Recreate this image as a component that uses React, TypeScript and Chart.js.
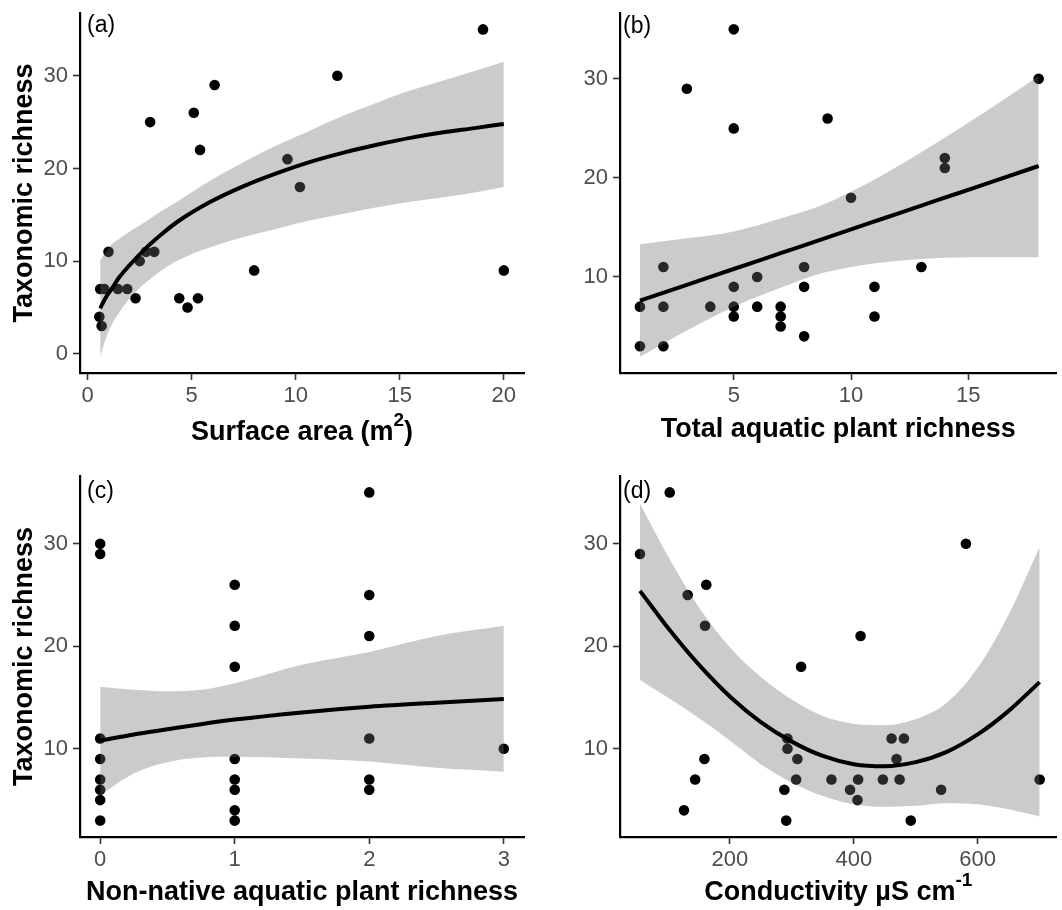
import React, { useEffect, useRef } from 'react';
import { Chart, registerables } from 'chart.js';

Chart.register(...registerables);

const FONT = "'Liberation Sans', Arial, Helvetica, sans-serif";
const BAND = 'rgba(110,110,110,0.36)';

// ---------- Panel (a): surface area ----------
const aPointX = [19.0, 12.0, 6.1, 5.1, 3.0, 5.4, 9.6, 10.2, 1.0, 2.8, 3.2, 2.5, 8.0, 20.0, 0.6, 0.8, 1.45, 1.9, 2.3, 4.4, 5.3, 4.8, 0.56, 0.67];
const aPointY = [35, 30, 29, 26, 25, 22, 21, 18, 11, 11, 11, 10, 9, 9, 7, 7, 7, 7, 6, 6, 6, 5, 4, 3];
const aCurveX = [0.6, 0.85, 1.15, 1.5, 1.95, 2.75, 3.55, 4.35, 5.9, 7.5, 9.1, 10.7, 12.3, 13.9, 15.5, 17.1, 18.6, 20];
const aFit = [4.9, 6.0, 7.0, 8.2, 9.4, 11.3, 12.9, 14.3, 16.4, 18.1, 19.5, 20.7, 21.7, 22.55, 23.3, 23.9, 24.35, 24.8];
const aUpper = [10.1, 10.9, 11.8, 12.4, 13.1, 14.2, 15.4, 16.5, 18.7, 20.7, 22.5, 24.1, 25.7, 27.1, 28.4, 29.5, 30.5, 31.5];
const aLower = [-0.3, 1.5, 3.1, 4.4, 5.8, 7.6, 9.0, 10.1, 11.5, 12.6, 13.5, 14.4, 15.1, 15.8, 16.4, 16.9, 17.4, 18.0];
const aXTicks = [0, 5, 10, 15, 20];
const aYTicks = [0, 10, 20, 30];

// ---------- Panel (b): total aquatic plant richness ----------
const bPointX = [5, 3, 5, 9, 18, 14, 14, 10, 2, 8, 13, 6, 5, 8, 11, 1, 2, 4, 5, 6, 7, 5, 7, 11, 7, 8, 1, 2];
const bPointY = [35, 29, 25, 26, 30, 22, 21, 18, 11, 11, 11, 10, 9, 9, 9, 7, 7, 7, 7, 7, 7, 6, 6, 6, 5, 4, 3, 3];
const bCurveX = [1, 3, 5, 7, 8.5, 10, 11.5, 13, 14.5, 16, 18];
const bFit = [7.6, 9.2, 10.8, 12.4, 13.6, 14.8, 16.0, 17.2, 18.4, 19.6, 21.2];
const bUpper = [13.3, 13.9, 14.6, 15.9, 17.0, 18.6, 20.5, 22.6, 24.8, 27.1, 30.3];
const bLower = [1.95, 4.6, 7.0, 8.9, 10.2, 11.0, 11.5, 11.8, 11.95, 12.0, 12.0];
const bXTicks = [5, 10, 15];
const bYTicks = [10, 20, 30];

// ---------- Panel (c): non-native aquatic plant richness ----------
const cPointX = [0, 0, 0, 0, 0, 0, 0, 0, 1, 1, 1, 1, 1, 1, 1, 1, 2, 2, 2, 2, 2, 2, 3];
const cPointY = [30, 29, 11, 9, 7, 6, 5, 3, 26, 22, 18, 9, 7, 6, 4, 3, 35, 25, 21, 11, 7, 6, 10];
const cCurveX = [0, 0.25, 0.5, 0.75, 1, 1.5, 2, 2.5, 3];
const cFit = [10.8, 11.4, 11.9, 12.4, 12.85, 13.55, 14.1, 14.5, 14.85];
const cUpper = [16.05, 15.75, 15.6, 15.75, 16.4, 18.2, 19.45, 21.0, 22.0];
const cLower = [5.5, 7.6, 8.7, 9.15, 9.23, 9.05, 8.75, 8.15, 7.77];
const cXTicks = [0, 1, 2, 3];
const cYTicks = [10, 20, 30];

// ---------- Panel (d): conductivity ----------
const dPointX = [103, 55, 132, 162, 160, 411, 315, 581, 293, 293, 309, 307, 364, 407, 394, 406, 447, 461, 481, 469, 474, 541, 700, 492, 291, 288, 159, 144, 126];
const dPointY = [35, 29, 25, 26, 22, 21, 18, 30, 11, 10, 9, 7, 7, 7, 6, 5, 7, 11, 11, 9, 7, 6, 7, 3, 3, 6, 9, 7, 4];
const dCurveX = [55, 100, 150, 200, 250, 300, 350, 400, 450, 500, 550, 600, 650, 700];
const dFit = [25.4, 21.8, 18.2, 15.1, 12.6, 10.7, 9.3, 8.5, 8.3, 8.7, 9.7, 11.4, 13.7, 16.5];
const dUpper = [33.9, 28.8, 23.8, 19.9, 17.0, 14.8, 13.2, 12.45, 12.3, 12.9, 14.5, 17.9, 23.1, 29.7];
const dLower = [16.7, 15.0, 13.0, 10.8, 8.5, 6.7, 5.4, 4.6, 4.35, 4.45, 4.7, 4.6, 4.1, 3.4];
const dXTicks = [200, 400, 600];
const dYTicks = [10, 20, 30];

// ---------- Texts ----------
const Y_TITLE = 'Taxonomic richness';
const aXTitle = [{ text: 'Surface area (m' }, { text: '2', sup: true }, { text: ')' }];
const bXTitle = [{ text: 'Total aquatic plant richness' }];
const cXTitle = [{ text: 'Non-native aquatic plant richness' }];
const dXTitle = [{ text: 'Conductivity µS cm' }, { text: '-1', sup: true }];

type Part = { text: string; sup?: boolean };
type Spec = {
  tag: string; tagDx: number; tagDy: number;
  xTitle: Part[]; xTitleDy: number; yTitle?: string;
  pointX: number[]; pointY: number[];
  curveX: number[]; fit: number[]; upper: number[]; lower: number[];
  xTicks: number[]; yTicks: number[];
  xMin: number; xMax: number; yMin: number; yMax: number;
  pad: { left: number; right: number; top: number; bottom: number };
  yAxisW: number; xAxisH: number;
};

const specs: { spec: Spec; left: number; top: number }[] = [
  {
    left: 0, top: 0,
    spec: {
      tag: '(a)', tagDx: 7, tagDy: 19, xTitle: aXTitle, xTitleDy: 67, yTitle: Y_TITLE,
      pointX: aPointX, pointY: aPointY, curveX: aCurveX, fit: aFit, upper: aUpper, lower: aLower,
      xTicks: aXTicks, yTicks: aYTicks, xMin: -0.37, xMax: 20.97, yMin: -2.07, yMax: 36.77,
      pad: { left: 0, right: 7, top: 13, bottom: 0 }, yAxisW: 80, xAxisH: 82,
    },
  },
  {
    left: 531, top: 0,
    spec: {
      tag: '(b)', tagDx: 3, tagDy: 19.5, xTitle: bXTitle, xTitleDy: 64,
      pointX: bPointX, pointY: bPointY, curveX: bCurveX, fit: bFit, upper: bUpper, lower: bLower,
      xTicks: bXTicks, yTicks: bYTicks, xMin: 0.15, xMax: 18.77, yMin: 0.3, yMax: 36.65,
      pad: { left: 0, right: 0, top: 13, bottom: 0 }, yAxisW: 89, xAxisH: 82,
    },
  },
  {
    left: 0, top: 455,
    spec: {
      tag: '(c)', tagDx: 7, tagDy: 22.4, xTitle: cXTitle, xTitleDy: 63, yTitle: Y_TITLE,
      pointX: cPointX, pointY: cPointY, curveX: cCurveX, fit: cFit, upper: cUpper, lower: cLower,
      xTicks: cXTicks, yTicks: cYTicks, xMin: -0.15, xMax: 3.15, yMin: 1.4, yMax: 36.6,
      pad: { left: 0, right: 7, top: 21, bottom: 0 }, yAxisW: 80, xAxisH: 73,
    },
  },
  {
    left: 531, top: 455,
    spec: {
      tag: '(d)', tagDx: 3, tagDy: 22.4, xTitle: dXTitle, xTitleDy: 63,
      pointX: dPointX, pointY: dPointY, curveX: dCurveX, fit: dFit, upper: dUpper, lower: dLower,
      xTicks: dXTicks, yTicks: dYTicks, xMin: 22.75, xMax: 727.5, yMin: 1.4, yMax: 36.6,
      pad: { left: 0, right: 0, top: 21, bottom: 0 }, yAxisW: 89, xAxisH: 73,
    },
  },
];

function textPlugin(p: Spec) {
  return {
    id: 'panelText',
    afterDraw(chart: any) {
      const { ctx, chartArea: a } = chart;
      ctx.save();
      ctx.fillStyle = '#000';
      ctx.textBaseline = 'alphabetic';
      ctx.textAlign = 'left';
      ctx.font = `23px ${FONT}`;
      ctx.fillText(p.tag, a.left + p.tagDx, a.top + p.tagDy);

      const mainF = `bold 27px ${FONT}`;
      const supF = `bold 19px ${FONT}`;
      let w = 0;
      for (const part of p.xTitle) {
        ctx.font = part.sup ? supF : mainF;
        w += ctx.measureText(part.text).width;
      }
      let x = (a.left + a.right) / 2 - w / 2;
      const y = a.bottom + p.xTitleDy;
      for (const part of p.xTitle) {
        ctx.font = part.sup ? supF : mainF;
        ctx.fillText(part.text, x, part.sup ? y - 14 : y);
        x += ctx.measureText(part.text).width;
      }

      if (p.yTitle) {
        ctx.font = mainF;
        ctx.textAlign = 'center';
        ctx.translate(32, (a.top + a.bottom) / 2);
        ctx.rotate(-Math.PI / 2);
        ctx.fillText(p.yTitle, 0, 0);
      }
      ctx.restore();
    },
  };
}

function buildConfig(p: Spec): any {
  const pts = p.pointX.map((x, i) => ({ x, y: p.pointY[i] }));
  const curve = (ys: number[]) => p.curveX.map((x, i) => ({ x, y: ys[i] }));
  const tickFont = { family: FONT, size: 22 };
  return {
    type: 'line',
    data: {
      datasets: [
        { data: curve(p.fit), borderColor: '#000', borderWidth: 4, pointRadius: 0, fill: false, cubicInterpolationMode: 'monotone', order: 0 },
        { data: curve(p.upper), borderColor: 'rgba(0,0,0,0)', borderWidth: 0, pointRadius: 0, fill: '+1', backgroundColor: BAND, cubicInterpolationMode: 'monotone', order: 1 },
        { data: curve(p.lower), borderColor: 'rgba(0,0,0,0)', borderWidth: 0, pointRadius: 0, fill: false, cubicInterpolationMode: 'monotone', order: 2 },
        { data: pts, showLine: false, pointRadius: 5.3, pointBackgroundColor: '#000', pointBorderColor: '#000', pointBorderWidth: 0, order: 3 },
      ],
    },
    options: {
      responsive: false,
      animation: false,
      devicePixelRatio: 1,
      events: [],
      layout: { padding: p.pad },
      plugins: { legend: { display: false }, tooltip: { enabled: false } },
      scales: {
        x: {
          type: 'linear', position: 'bottom', min: p.xMin, max: p.xMax,
          border: { display: true, color: '#000', width: 2.2 },
          grid: { display: true, drawOnChartArea: false, drawTicks: true, tickLength: 7, tickWidth: 1.6, tickColor: '#333' },
          ticks: { color: '#4D4D4D', font: tickFont, padding: 3, maxRotation: 0, autoSkip: false, callback: (v: number) => String(v) },
          afterBuildTicks: (s: any) => { s.ticks = p.xTicks.map((v) => ({ value: v })); },
          afterFit: (s: any) => { s.height = p.xAxisH; s.paddingLeft = 0; s.paddingRight = 0; },
        },
        y: {
          type: 'linear', position: 'left', min: p.yMin, max: p.yMax,
          border: { display: true, color: '#000', width: 2.2 },
          grid: { display: true, drawOnChartArea: false, drawTicks: true, tickLength: 7, tickWidth: 1.6, tickColor: '#333' },
          ticks: { color: '#4D4D4D', font: tickFont, padding: 5, autoSkip: false, callback: (v: number) => String(v) },
          afterBuildTicks: (s: any) => { s.ticks = p.yTicks.map((v) => ({ value: v })); },
          afterFit: (s: any) => { s.width = p.yAxisW; s.paddingTop = 0; s.paddingBottom = 0; },
        },
      },
    },
    plugins: [textPlugin(p)],
  };
}

function Panel({ spec, left, top }: { spec: Spec; left: number; top: number }) {
  const ref = useRef<HTMLCanvasElement>(null);
  useEffect(() => {
    const chart = new Chart(ref.current as HTMLCanvasElement, buildConfig(spec));
    return () => chart.destroy();
  }, [spec]);
  return (
    <canvas
      ref={ref}
      width={531}
      height={455}
      style={{ position: 'absolute', left, top, width: 531, height: 455, display: 'block' }}
    />
  );
}

export default function App() {
  return (
    <div style={{ position: 'absolute', left: 0, top: 0, width: 1062, height: 910, background: '#fff', overflow: 'hidden' }}>
      {specs.map((s, i) => (
        <Panel key={i} spec={s.spec} left={s.left} top={s.top} />
      ))}
    </div>
  );
}
